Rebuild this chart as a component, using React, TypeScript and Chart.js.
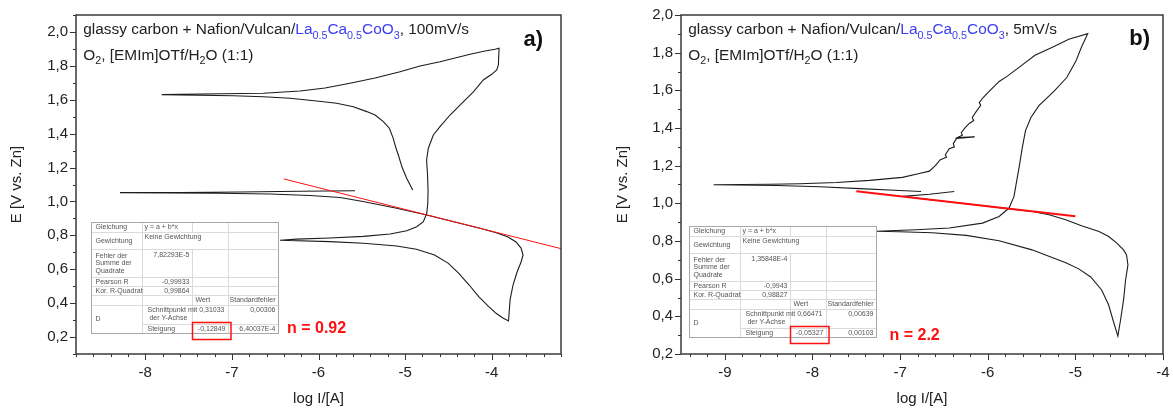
import { useEffect, useRef } from 'react';
import { Chart, registerables } from 'chart.js';

Chart.register(...registerables);

// ---------- panel a: 100 mV/s, one full sweep in log|I| vs E ----------
const aLogI = [
  -5.578, -6.213, -6.906, -7.599, -8.292,
  -7.715, -7.16, -6.56, -6.098, -5.751, -5.486, -5.097, -4.75, -4.52, -4.135, -3.938, -3.811, -3.719, -3.661, -3.638, -3.661, -3.707, -3.754, -3.788, -3.806,
  -3.866, -3.95, -4.04, -4.15, -4.26, -4.38, -4.5, -4.66, -4.87, -5.097, -5.482, -5.867, -6.444,
  -6.251, -5.867, -5.482, -5.174, -4.981, -4.866, -4.789, -4.75, -4.738, -4.735, -4.741, -4.752, -4.732, -4.674, -4.597, -4.481, -4.346, -4.212, -4.097, -4.0, -3.942, -3.923, -3.915,
  -3.962, -4.077, -4.25, -4.597, -4.828, -5.059, -5.347, -5.636, -5.925, -6.213, -6.637, -7.368, -7.81,
  -6.984, -6.637, -6.329, -6.021, -5.79, -5.598, -5.443, -5.347, -5.251, -5.182, -5.139, -5.105, -5.078, -5.036, -4.982, -4.912,
];
const aPotential = [
  1.063, 1.06, 1.056, 1.053, 1.052,
  1.05, 1.048, 1.044, 1.035, 1.023, 1.0, 0.96, 0.92, 0.891, 0.842, 0.814, 0.79, 0.761, 0.725, 0.684, 0.643, 0.584, 0.507, 0.419, 0.295,
  0.311, 0.34, 0.383, 0.438, 0.507, 0.576, 0.635, 0.684, 0.718, 0.737, 0.753, 0.763, 0.771,
  0.778, 0.784, 0.794, 0.808, 0.827, 0.851, 0.881, 0.93, 0.989, 1.068, 1.156, 1.245, 1.314, 1.392, 1.441, 1.51, 1.579, 1.647, 1.717, 1.75, 1.776, 1.805, 1.904,
  1.898, 1.888, 1.868, 1.824, 1.799, 1.765, 1.728, 1.697, 1.669, 1.652, 1.638, 1.634, 1.63,
  1.624, 1.618, 1.609, 1.593, 1.579, 1.559, 1.53, 1.51, 1.471, 1.432, 1.375, 1.314, 1.274, 1.203, 1.137, 1.068,
];

// ---------- panel b: 5 mV/s ----------
const bLogI = [
  -6.382, -6.666, -6.969, -6.7, -6.4, -6.1, -5.8, -5.49, -5.3, -5.11, -4.93, -4.73, -4.62, -4.53, -4.45, -4.416, -4.4, -4.427, -4.45, -4.485, -4.515,
  -4.564, -4.62, -4.7, -4.825, -4.961, -5.109, -5.495, -5.87, -6.245, -6.632, -7.008, -7.272,
  -6.817, -6.439, -6.06, -5.87, -5.757, -5.7, -5.677, -5.643, -5.606, -5.569, -5.507, -5.416, -5.245, -5.098, -4.995, -4.927, -4.859,
  -5.075, -5.268, -5.461, -5.643, -5.78, -5.87, -5.984, -6.052, -6.097, -6.08, -6.132, -6.177, -6.16, -6.211, -6.257, -6.302, -6.29, -6.348, -6.15, -6.355, -6.393, -6.38, -6.439, -6.484, -6.47, -6.541, -6.598, -6.666, -6.78, -6.973, -7.348, -7.726, -8.143, -8.484, -9.128,
  -8.408, -7.916, -7.461, -7.006, -6.76,
];
const bPotential = [
  1.063, 1.048, 1.037, 1.022, 1.006, 0.99, 0.973, 0.957, 0.939, 0.913, 0.881, 0.85, 0.824, 0.79, 0.753, 0.726, 0.673, 0.593, 0.487, 0.379, 0.295,
  0.37, 0.46, 0.54, 0.609, 0.652, 0.684, 0.753, 0.801, 0.83, 0.844, 0.849, 0.852,
  0.86, 0.869, 0.895, 0.93, 0.975, 1.037, 1.099, 1.188, 1.294, 1.386, 1.456, 1.519, 1.594, 1.668, 1.754, 1.833, 1.901,
  1.871, 1.828, 1.786, 1.722, 1.674, 1.647, 1.594, 1.562, 1.535, 1.521, 1.487, 1.456, 1.44, 1.424, 1.402, 1.376, 1.362, 1.349, 1.353, 1.345, 1.317, 1.3, 1.29, 1.258, 1.245, 1.232, 1.2, 1.171, 1.158, 1.138, 1.122, 1.111, 1.104, 1.101, 1.099,
  1.095, 1.088, 1.078, 1.068, 1.063,
];

// Linear fit reports: Fehlerquadratsumme, Pearson R, Kor. R², Achsenabschnitt, Fehler, Steigung, Fehler
const aFitReport = ['7,82293E-5', '-0,99933', '0,99864', '0,31033', '0,00306', '-0,12849', '6,40037E-4'];
const bFitReport = ['1,35848E-4', '-0,9943', '0,98827', '0,66471', '0,00639', '-0,05327', '0,00103'];
const aFitRange = [-6.4, -3.2];
const bFitRange = [-7.5, -5.0];

const aTransfer = 'n = 0.92';
const bTransfer = 'n = 2.2';
const aRate = '100mV/s';
const bRate = '5mV/s';
const aLetter = 'a)';
const bLetter = 'b)';

const xTitle = 'log I/[A]';
const yTitle = 'E [V vs. Zn]';
const substrate = 'glassy carbon + Nafion/Vulcan/';
const catalyst = ['La', '0.5', 'Ca', '0.5', 'CoO', '3']; // base, subscript, base, ...
const electrolyte = ['O', '2', ', [EMIm]OTf/H', '2', 'O (1:1)'];

const reportLabels = ['Gleichung', 'Gewichtung', 'Fehler der|Summe der|Quadrate', 'Pearson R', 'Kor. R-Quadrat'];
const reportEquation = 'y = a + b*x';
const reportWeighting = 'Keine Gewichtung';
const reportHeader = ['Wert', 'Standardfehler'];
const reportParams = ['Schnittpunkt mit| der Y-Achse', 'Steigung'];
const reportDataset = 'D';

const FONT = '"Liberation Sans", Arial, Helvetica, sans-serif';
const INK = '#222';
const BLUE = '#3c3cf0';
const RED = '#ff1010';

const parseDe = (s: string) => parseFloat(s.replace(',', '.'));
const isMultiple = (v: number, step: number) => Math.abs(v / step - Math.round(v / step)) < 1e-6;

function makeTicks(min: number, max: number, step: number) {
  const out: { value: number }[] = [];
  const i0 = Math.ceil(min / step - 1e-9);
  const i1 = Math.floor(max / step + 1e-9);
  for (let i = i0; i <= i1; i++) out.push({ value: Math.round(i * step * 1e6) / 1e6 });
  return out;
}

type Part = { t: string; sub?: boolean; color?: string };

function drawRich(ctx: CanvasRenderingContext2D, x: number, y: number, parts: Part[], size: number) {
  let cx = x;
  ctx.textAlign = 'left';
  ctx.textBaseline = 'alphabetic';
  for (const p of parts) {
    const s = p.sub ? size * 0.7 : size;
    ctx.font = `${s}px ${FONT}`;
    ctx.fillStyle = p.color || INK;
    ctx.fillText(p.t, cx, p.sub ? y + size * 0.3 : y);
    cx += ctx.measureText(p.t).width;
  }
}

function drawReport(ctx: CanvasRenderingContext2D, x0: number, y0: number, vals: string[]) {
  const cols = [0, 50.5, 101, 136.5, 186.7].map((c) => Math.round(x0 + c) + 0.5);
  const rows = [0, 9.6, 26.6, 54.5, 64, 73, 83, 101.8, 110.8].map((r) => Math.round(y0 + r) + 0.5);
  ctx.save();
  ctx.fillStyle = '#fff';
  ctx.fillRect(cols[0], rows[0], cols[4] - cols[0], rows[8] - rows[0]);
  ctx.strokeStyle = '#dadada';
  ctx.lineWidth = 1;
  ctx.beginPath();
  for (let r = 1; r < 8; r++) {
    const xs = r === 7 ? cols[1] : cols[0];
    ctx.moveTo(xs, rows[r]);
    ctx.lineTo(cols[4], rows[r]);
  }
  for (let c = 1; c < 4; c++) {
    if (c === 2) {
      ctx.moveTo(cols[c], rows[0]);
      ctx.lineTo(cols[c], rows[1]);
      ctx.moveTo(cols[c], rows[2]);
      ctx.lineTo(cols[c], rows[8]);
    } else {
      ctx.moveTo(cols[c], rows[0]);
      ctx.lineTo(cols[c], rows[8]);
    }
  }
  ctx.stroke();
  ctx.strokeStyle = '#a8a8a8';
  ctx.strokeRect(cols[0], rows[0], cols[4] - cols[0], rows[8] - rows[0]);

  ctx.font = `7px ${FONT}`;
  ctx.fillStyle = '#555';
  ctx.textBaseline = 'middle';
  const mid = (a: number, b: number) => (rows[a] + rows[b]) / 2;
  const left = (t: string, x: number, y: number) => { ctx.textAlign = 'left'; ctx.fillText(t, x, y); };
  const right = (t: string, x: number, y: number) => { ctx.textAlign = 'right'; ctx.fillText(t, x, y); };

  reportLabels.forEach((lab, r) => {
    const lines = lab.split('|');
    const c = mid(r, r + 1);
    lines.forEach((ln, k) => left(ln, cols[0] + 4, c + (k - (lines.length - 1) / 2) * 7.5));
  });
  left(reportEquation, cols[1] + 2, mid(0, 1));
  left(reportWeighting, cols[1] + 2, rows[1] + 4.5);
  right(vals[0], cols[2] - 3, rows[2] + 6);
  right(vals[1], cols[2] - 3, mid(3, 4));
  right(vals[2], cols[2] - 3, mid(4, 5));
  left(reportHeader[0], cols[2] + 3, mid(5, 6));
  right(reportHeader[1], cols[4] - 3, mid(5, 6));
  reportParams[0].split('|').forEach((ln, k) => left(ln, cols[1] + 5, rows[6] + 5 + k * 7.5));
  right(vals[3], cols[3] - 4, rows[6] + 5);
  right(vals[4], cols[4] - 3, rows[6] + 5);
  left(reportParams[1], cols[1] + 5, mid(7, 8));
  right(vals[5], cols[3] - 3, mid(7, 8));
  right(vals[6], cols[4] - 3, mid(7, 8));
  left(reportDataset, cols[0] + 4, mid(6, 8));

  // highlight of the slope value
  ctx.strokeStyle = RED;
  ctx.lineWidth = 1.5;
  ctx.strokeRect(cols[2], rows[7] - 2, cols[3] - cols[2] + 2.5, rows[8] - rows[7] + 8);
  ctx.restore();
}

const decorPlugin = {
  id: 'decor',
  afterDatasetsDraw(chart: any, _args: any, o: any) {
    const { ctx, chartArea: ca } = chart;
    drawReport(ctx, ca.left + o.table[0], ca.top + o.table[1], o.report);
    ctx.save();
    ctx.font = `bold 16px ${FONT}`;
    ctx.fillStyle = RED;
    ctx.textAlign = 'left';
    ctx.textBaseline = 'alphabetic';
    ctx.fillText(o.transfer, ca.left + o.nPos[0], ca.top + o.nPos[1]);
    ctx.restore();
  },
  afterDraw(chart: any, _args: any, o: any) {
    const { ctx, chartArea: ca, scales } = chart;
    const x = scales.x;
    const y = scales.y;
    ctx.save();
    ctx.strokeStyle = '#333';
    ctx.lineWidth = 1;
    ctx.beginPath();
    x.ticks.forEach((t: any) => {
      const px = Math.round(x.getPixelForValue(t.value)) + 0.5;
      const len = isMultiple(t.value, 1) ? 6 : 3;
      ctx.moveTo(px, ca.bottom);
      ctx.lineTo(px, ca.bottom + len);
    });
    y.ticks.forEach((t: any) => {
      const py = Math.round(y.getPixelForValue(t.value)) + 0.5;
      const len = isMultiple(t.value, 0.2) ? 6 : 3;
      ctx.moveTo(ca.left, py);
      ctx.lineTo(ca.left - len, py);
    });
    ctx.stroke();
    ctx.lineWidth = 1.5;
    ctx.strokeStyle = '#3a3a3a';
    ctx.strokeRect(ca.left, ca.top, ca.right - ca.left, ca.bottom - ca.top);

    const hx = ca.left + 7.3;
    const line1: Part[] = [
      { t: substrate },
      ...catalyst.map((t, i) => ({ t, sub: i % 2 === 1, color: BLUE })),
      { t: ', ' + o.rate },
    ];
    const line2: Part[] = electrolyte.map((t, i) => ({ t, sub: i % 2 === 1 }));
    drawRich(ctx, hx, 34, line1, 15.4);
    drawRich(ctx, hx, 59.5, line2, 15.4);

    ctx.font = `bold 22px ${FONT}`;
    ctx.fillStyle = '#111';
    ctx.textAlign = 'right';
    ctx.textBaseline = 'alphabetic';
    ctx.fillText(o.letter, ca.right + o.letterPos[0], ca.top + o.letterPos[1]);
    ctx.restore();
  },
};

type PanelDef = {
  logI: number[];
  potential: number[];
  report: string[];
  fitRange: number[];
  xMin: number; xMax: number; yMin: number; yMax: number;
  axisWidth: number; padRight: number; yTitlePad: number;
  table: number[]; nPos: number[]; letterPos: number[];
  transfer: string; rate: string; letter: string; fitWidth: number;
};

function buildConfig(p: PanelDef): any {
  const a = parseDe(p.report[3]);
  const b = parseDe(p.report[5]);
  const fit = p.fitRange.map((x) => ({ x, y: a + b * x }));
  const curve = p.logI.map((x, i) => ({ x, y: p.potential[i] }));
  const tickFont = { family: FONT, size: 15 };
  return {
    type: 'scatter',
    data: {
      datasets: [
        { data: fit, showLine: true, borderColor: RED, borderWidth: p.fitWidth, pointRadius: 0, tension: 0 },
        { data: curve, showLine: true, borderColor: '#1c1c1c', borderWidth: 1.1, pointRadius: 0, tension: 0 },
      ],
    },
    options: {
      animation: false,
      responsive: false,
      maintainAspectRatio: false,
      events: [],
      layout: { padding: { left: 0, right: p.padRight, top: 15, bottom: 0 } },
      plugins: {
        legend: { display: false },
        tooltip: { enabled: false },
        decor: {
          report: p.report, table: p.table, nPos: p.nPos, letterPos: p.letterPos,
          transfer: p.transfer, rate: p.rate, letter: p.letter,
        },
      },
      scales: {
        x: {
          type: 'linear',
          min: p.xMin,
          max: p.xMax,
          afterBuildTicks: (s: any) => { s.ticks = makeTicks(p.xMin, p.xMax, 0.2); },
          afterFit: (s: any) => {
            s.height = 54;
            s.paddingLeft = 0;
            s.paddingRight = 0;
          },
          grid: { display: false, drawTicks: false },
          border: { display: false },
          ticks: {
            autoSkip: false, maxRotation: 0, padding: 10, color: INK, font: tickFont,
            callback: (v: number) => (isMultiple(v, 1) ? String(Math.round(v)) : ''),
          },
          title: { display: true, text: xTitle, color: INK, font: tickFont, padding: { top: 0, bottom: 0 } },
        },
        y: {
          type: 'linear',
          min: p.yMin,
          max: p.yMax,
          afterBuildTicks: (s: any) => { s.ticks = makeTicks(p.yMin, p.yMax, 0.1); },
          afterFit: (s: any) => {
            s.width = p.axisWidth;
            s.paddingTop = 0;
            s.paddingBottom = 0;
          },
          grid: { display: false, drawTicks: false },
          border: { display: false },
          ticks: {
            autoSkip: false, padding: 8, color: INK, font: tickFont,
            callback: (v: number) => (isMultiple(v, 0.2) ? v.toFixed(1).replace('.', ',') : ''),
          },
          title: { display: true, text: yTitle, color: INK, font: tickFont, padding: { top: p.yTitlePad, bottom: 0 } },
        },
      },
    },
    plugins: [decorPlugin],
  };
}

const panelA: PanelDef = {
  logI: aLogI, potential: aPotential, report: aFitReport, fitRange: aFitRange,
  xMin: -8.8, xMax: -3.2, yMin: 0.1, yMax: 2.1,
  axisWidth: 76, padRight: 19, yTitlePad: 8,
  table: [15, 207.3], nPos: [211, 318], letterPos: [-18, 31],
  transfer: aTransfer, rate: aRate, letter: aLetter, fitWidth: 1,
};

const panelB: PanelDef = {
  logI: bLogI, potential: bPotential, report: bFitReport, fitRange: bFitRange,
  xMin: -9.5, xMax: -4, yMin: 0.2, yMax: 2.0,
  axisWidth: 98, padRight: 10, yTitlePad: 30.5,
  table: [8, 211], nPos: [208.5, 325], letterPos: [-13, 30],
  transfer: bTransfer, rate: bRate, letter: bLetter, fitWidth: 2,
};

function PanelChart({ def, left, width }: { def: PanelDef; left: number; width: number }) {
  const ref = useRef<HTMLCanvasElement | null>(null);
  useEffect(() => {
    if (!ref.current) return;
    const chart = new Chart(ref.current, buildConfig(def));
    return () => chart.destroy();
  }, [def]);
  return (
    <canvas
      ref={ref}
      width={width}
      height={408}
      style={{ position: 'absolute', left, top: 0, width, height: 408 }}
    />
  );
}

export default function App() {
  return (
    <div style={{ position: 'fixed', left: 0, top: 0, width: 1173, height: 408, background: '#fff', overflow: 'hidden' }}>
      <PanelChart def={panelA} left={0} width={580} />
      <PanelChart def={panelB} left={583} width={590} />
    </div>
  );
}
